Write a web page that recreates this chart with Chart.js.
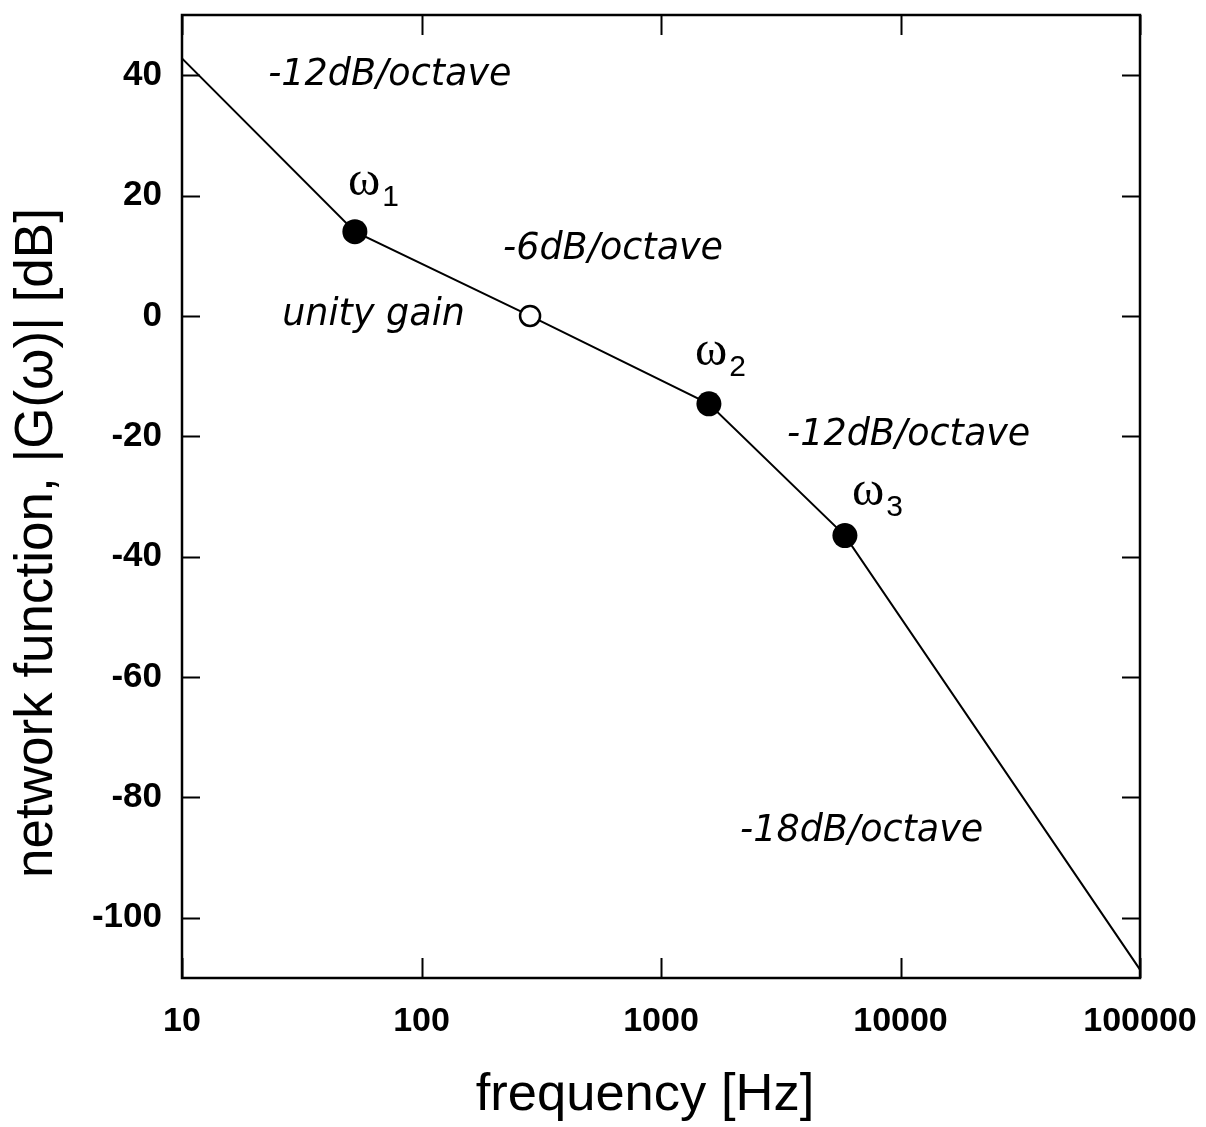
<!DOCTYPE html>
<html>
<head>
<meta charset="utf-8">
<script src="https://cdn.jsdelivr.net/npm/chart.js@4/dist/chart.umd.min.js"></script>
<style>
  html, body { margin: 0; padding: 0; background: #fff; }
  canvas { display: block; }
</style>
</head>
<body>
<canvas id="bode" width="1206" height="1127"></canvas>
<script>
// asymptotic magnitude curve (corner points)
const freqs = [10, 52.7, 284, 1585, 5860, 100000];
const gains = [42.8, 14, 0, -14.6, -36.5, -108.6];

// break frequencies (filled) and unity-gain crossing (open)
const breakFreqs = [52.7, 1585, 5860];
const breakGains = [14, -14.6, -36.5];
const unityFreqs = [284];
const unityGains = [0];

const xTicks = [10, 100, 1000, 10000, 100000];
const yTicks = [-100, -80, -60, -40, -20, 0, 20, 40];

// slope notes, anchored at their left edge in data space
const noteTexts = ['-12dB/octave', '-6dB/octave', 'unity gain', '-12dB/octave', '-18dB/octave'];
const noteFreqs = [22.9, 219, 26.2, 3360, 2138];
const noteGains = [40, 11, 0, -19.8, -85.7];

// omega labels at the break points
const omegaSubs = ['1', '2', '3'];
const omegaFreqs = [49.3, 1387, 6266];
const omegaGains = [20.1, -8.1, -31.4];

const xTitle = 'frequency [Hz]';
const yTitle = 'network function, |G(\u03c9)| [dB]';

const SANS = '"Liberation Sans", Arial, sans-serif';

const toXY = (xs, ys) => xs.map((x, i) => ({ x: x, y: ys[i] }));

// drop the label overhang padding so the plot box lands where the layout says
const noOverhang = (scale) => {
  scale.paddingTop = 0;
  scale.paddingBottom = 0;
  scale.paddingLeft = 0;
  scale.paddingRight = 0;
};

// box frame, inward ticks on all four sides, notes and titles
const framePlugin = {
  id: 'frame',
  afterDraw(chart) {
    const ctx = chart.ctx;
    const a = chart.chartArea;
    const sx = chart.scales.x;
    const sy = chart.scales.y;
    ctx.save();
    ctx.strokeStyle = '#000';
    ctx.lineWidth = 2.5;
    ctx.strokeRect(a.left, a.top, a.right - a.left, a.bottom - a.top);

    ctx.lineWidth = 2;
    ctx.beginPath();
    for (const v of xTicks) {
      const px = Math.round(sx.getPixelForValue(v)) + 0.5;
      ctx.moveTo(px, a.bottom); ctx.lineTo(px, a.bottom - 20);
      ctx.moveTo(px, a.top); ctx.lineTo(px, a.top + 20);
    }
    for (const v of yTicks) {
      const py = Math.round(sy.getPixelForValue(v)) + 0.5;
      ctx.moveTo(a.left, py); ctx.lineTo(a.left + 18, py);
      ctx.moveTo(a.right, py); ctx.lineTo(a.right - 18, py);
    }
    ctx.stroke();

    ctx.fillStyle = '#000';
    ctx.textAlign = 'left';
    ctx.textBaseline = 'middle';
    ctx.font = 'italic 36.5px "DejaVu Sans", Verdana, sans-serif';
    noteTexts.forEach((t, i) => {
      ctx.fillText(t, sx.getPixelForValue(noteFreqs[i]), sy.getPixelForValue(noteGains[i]));
    });

    ctx.textBaseline = 'alphabetic';
    omegaSubs.forEach((s, i) => {
      const px = sx.getPixelForValue(omegaFreqs[i]);
      const py = sy.getPixelForValue(omegaGains[i]);
      ctx.font = '49px "Liberation Serif", "Times New Roman", serif';
      ctx.fillText('\u03c9', px, py);
      const w = ctx.measureText('\u03c9').width;
      ctx.font = '30px ' + SANS;
      ctx.fillText(s, px + w + 2, py + 11);
    });

    ctx.font = '52.5px ' + SANS;
    ctx.textAlign = 'center';
    ctx.fillText(xTitle, 645, 1110);

    ctx.translate(52, 543);
    ctx.rotate(-Math.PI / 2);
    ctx.font = '53px ' + SANS;
    ctx.fillText(yTitle, 0, 0);
    ctx.restore();
  }
};

new Chart(document.getElementById('bode'), {
  type: 'scatter',
  data: {
    datasets: [
      {
        data: toXY(freqs, gains),
        showLine: true,
        borderColor: '#000',
        borderWidth: 2,
        pointRadius: 0,
        tension: 0,
        order: 3
      },
      {
        data: toXY(unityFreqs, unityGains),
        pointRadius: 10,
        pointBackgroundColor: '#fff',
        pointBorderColor: '#000',
        pointBorderWidth: 2.5,
        order: 2
      },
      {
        data: toXY(breakFreqs, breakGains),
        pointRadius: 12.5,
        pointBackgroundColor: '#000',
        pointBorderColor: '#000',
        pointBorderWidth: 0,
        order: 1
      }
    ]
  },
  options: {
    responsive: false,
    animation: false,
    layout: { padding: { top: 15, right: 66, left: 0, bottom: 0 } },
    plugins: {
      legend: { display: false },
      tooltip: { enabled: false }
    },
    scales: {
      x: {
        type: 'logarithmic',
        min: 10,
        max: 100000,
        afterBuildTicks: (scale) => { scale.ticks = xTicks.map(v => ({ value: v })); },
        afterFit: (scale) => { scale.height = 149; noOverhang(scale); },
        grid: { display: false, drawTicks: false },
        border: { display: false },
        ticks: {
          padding: 23,
          color: '#000',
          maxRotation: 0,
          font: { family: SANS, size: 34, weight: 'bold' },
          callback: (v) => String(v)
        }
      },
      y: {
        min: -110,
        max: 50,
        afterBuildTicks: (scale) => { scale.ticks = yTicks.map(v => ({ value: v })); },
        afterFit: (scale) => { scale.width = 182; noOverhang(scale); },
        grid: { display: false, drawTicks: false },
        border: { display: false },
        ticks: {
          padding: 20,
          color: '#000',
          font: { family: SANS, size: 35, weight: 'bold' },
          callback: (v) => String(v)
        }
      }
    }
  },
  plugins: [framePlugin]
});
</script>
</body>
</html>
